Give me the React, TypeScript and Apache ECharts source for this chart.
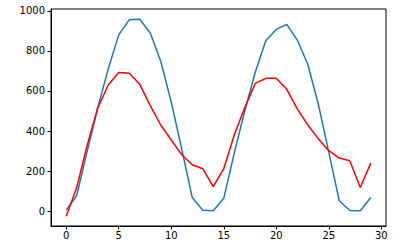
import React, { useEffect, useRef } from "react";
import * as echarts from "echarts";

const xValues = [0, 1, 2, 3, 4, 5, 6, 7, 8, 9, 10, 11, 12, 13, 14, 15, 16, 17, 18, 19, 20, 21, 22, 23, 24, 25, 26, 27, 28, 29];
const blueValues = [5, 78, 300, 515, 710, 880, 955, 958, 889, 748, 544, 310, 68, 5, 2, 64, 290, 500, 693, 850, 907, 932, 854, 733, 535, 295, 52, 3, 2, 68];
const redValues = [-25, 118, 330, 515, 630, 692, 688, 633, 527, 430, 355, 282, 232, 212, 122, 212, 380, 517, 638, 663, 663, 608, 511, 430, 362, 302, 265, 252, 118, 240];
const xTicks = [0, 5, 10, 15, 20, 25, 30];
const yTicks = [0, 200, 400, 600, 800, 1000];

export default function App() {
  const ref = useRef<HTMLDivElement>(null);
  useEffect(() => {
    if (!ref.current) return;
    const chart = echarts.init(ref.current, null, { renderer: "svg" });
    const font = { fontFamily: "DejaVu Sans", fontSize: 10, color: "#000" };
    chart.setOption({
      animation: false,
      grid: {
        left: 51,
        right: 32,
        top: 9,
        bottom: 19,
        show: true,
        borderColor: "#000",
        borderWidth: 1,
        backgroundColor: "transparent",
      },
      xAxis: {
        type: "value",
        min: -1.45,
        max: 30.45,
        axisLine: { show: true, onZero: false, lineStyle: { color: "#000", width: 1 } },
        axisTick: { show: true, customValues: xTicks, length: 3.5, lineStyle: { color: "#000" } },
        axisLabel: { ...font, customValues: xTicks, margin: 4, formatter: (v: number) => String(v) },
        splitLine: { show: false },
      },
      yAxis: {
        type: "value",
        min: -74,
        max: 1009,
        axisLine: { show: true, onZero: false, lineStyle: { color: "#000", width: 1 } },
        axisTick: { show: true, customValues: yTicks, length: 3.5, lineStyle: { color: "#000" } },
        axisLabel: { ...font, customValues: yTicks, margin: 6, formatter: (v: number) => String(v) },
        splitLine: { show: false },
      },
      series: [
        {
          type: "line",
          data: xValues.map((x, i) => [x, blueValues[i]]),
          showSymbol: false,
          lineStyle: { color: "#1f77b4", width: 1.5 },
          itemStyle: { color: "#1f77b4" },
        },
        {
          type: "line",
          data: xValues.map((x, i) => [x, redValues[i]]),
          showSymbol: false,
          lineStyle: { color: "#ff0000", width: 1.5 },
          itemStyle: { color: "#ff0000" },
        },
      ],
    });
    return () => chart.dispose();
  }, []);
  return (
    <div
      ref={ref}
      style={{ position: "absolute", left: 0, top: 0, width: 418, height: 245, background: "#fff" }}
    />
  );
}
